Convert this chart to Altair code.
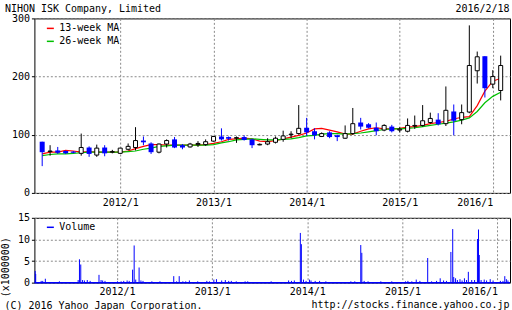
import altair as alt
import pandas as pd

FONT = "DejaVu Sans Mono"
BLUE = "#0000ff"

# Monthly candles, 2011/3 .. 2016/2
months = [f"{y}-{m:02d}-01" for y in range(2011, 2017) for m in range(1, 13)]
months = [d for d in months if "2011-03-01" <= d <= "2016-02-01"]

open_ = [88, 71, 73, 72, 71, 68, 78, 65, 78, 70,
         68, 75, 78, 90, 85, 70, 84, 92, 82, 79,
         83, 83, 89, 97, 96, 94, 96, 92, 82.5, 84,
         87, 92, 100, 102, 112, 106, 97, 104, 99, 94,
         102, 121, 118, 112, 108, 114, 108, 106, 115, 116,
         121, 126, 119, 140, 126, 139, 210, 235, 187, 176]
high = [88, 82, 79, 73, 72, 102, 80, 83, 82, 74,
        77, 85, 113, 97, 87, 85, 92, 96, 84, 86,
        89, 92, 98, 111, 97, 97, 99, 93, 85, 94,
        97, 107, 106, 151, 129, 111, 104, 106, 100, 116,
        146, 129, 120, 121, 118, 117, 113, 128, 133, 151,
        138, 137, 183, 152, 152, 288, 243, 235, 211, 236]
low = [46, 64, 67, 67, 68, 64, 62, 62, 63, 68,
       67, 73, 73, 82, 67, 68, 78, 77, 75, 78,
       79, 81, 88, 90, 90, 86, 90, 77, 82, 82,
       85, 88, 94, 100, 98, 92, 96, 94, 89, 93,
       100, 109, 111, 99, 106, 104, 104, 104, 110, 114,
       119, 116, 115, 99, 118, 137, 188, 164, 180, 159]
close = [70, 72, 69, 68, 69, 78, 67, 77, 68, 71,
         77, 80, 90, 87, 70, 84, 90, 78, 78, 84,
         85, 88, 97, 92, 93, 95, 91, 82, 83.5, 88,
         94, 98, 101, 111, 104, 99, 102, 96, 96, 102,
         119, 114, 112, 106, 116, 106, 109.5, 116, 116, 124,
         128, 118, 142, 124, 138, 219, 234, 180, 200, 219]

ma13 = [67, 70, 70, 73, 72, 70, 71, 70, 70, 70,
        70, 72, 76, 80, 83, 83, 82, 82, 82, 82,
        82, 83, 85, 88, 92, 93, 94, 93, 89, 88,
        90, 93, 96, 99, 103, 110, 111, 108, 105, 101,
        101, 106, 110, 112, 110, 110, 111, 113, 114, 116,
        119, 121, 123, 127, 130, 131, 150, 175, 192, 197]
ma26 = [64, 66, 67, 67, 68, 69, 70, 70, 70, 70,
        70, 71, 72, 75, 77, 80, 81, 82, 82, 82,
        82, 82, 83, 86, 88, 91, 92, 93, 92, 91,
        91, 92, 93, 95, 98, 99, 101, 102, 102, 101,
        102, 103, 105, 107, 109, 110, 110, 111, 112, 114,
        116, 118, 120, 122, 125, 129, 140, 155, 166, 173]

vol_dates = ["2011-02-21", "2011-02-23", "2011-03-16", "2011-03-22", "2011-04-01",
             "2011-05-25", "2011-08-05", "2011-08-10", "2011-08-15", "2011-08-22",
             "2011-08-29", "2011-09-09", "2011-09-20", "2011-10-24", "2011-11-01",
             "2011-11-07", "2011-11-16", "2012-01-03", "2012-01-17", "2012-01-27",
             "2012-02-09", "2012-02-17", "2012-03-01", "2012-03-07", "2012-03-13",
             "2012-03-26", "2012-04-02", "2012-04-10", "2012-05-14", "2012-06-14",
             "2012-08-06", "2012-08-17", "2012-08-27", "2012-09-10", "2012-09-21",
             "2012-10-05", "2012-11-06", "2012-12-11", "2012-12-21", "2013-01-07",
             "2013-01-17", "2013-02-06", "2013-02-20", "2013-03-05", "2013-03-15",
             "2013-04-03", "2013-05-07", "2013-05-17", "2013-08-15", "2013-10-21",
             "2013-11-01", "2013-11-12", "2013-12-05", "2013-12-09", "2013-12-17",
             "2013-12-27", "2014-01-09", "2014-01-15", "2014-01-31", "2014-02-17",
             "2014-03-13", "2014-06-17", "2014-07-02", "2014-07-25", "2014-07-29",
             "2014-08-07", "2014-08-22", "2014-10-10", "2014-11-21", "2015-01-13",
             "2015-01-22", "2015-02-06", "2015-02-23", "2015-03-09", "2015-04-08",
             "2015-04-23", "2015-05-12", "2015-05-26", "2015-06-08", "2015-06-19",
             "2015-07-06", "2015-07-13", "2015-07-17", "2015-07-24", "2015-07-31",
             "2015-08-10", "2015-08-18", "2015-08-27", "2015-09-04", "2015-09-11",
             "2015-09-24", "2015-10-05", "2015-10-16", "2015-10-20", "2015-10-23",
             "2015-10-30", "2015-11-11", "2015-11-20", "2015-12-04", "2015-12-15",
             "2016-01-12", "2016-01-22", "2016-01-29", "2016-02-04", "2016-02-10"]
vol_values = [2.7, 2.0, 0.4, 0.4, 0.9,
              0.3, 0.6, 5.4, 4.2, 0.6,
              0.5, 0.6, 0.4, 1.8, 0.6,
              0.5, 0.4, 0.3, 0.3, 0.4,
              0.5, 0.4, 3.0, 8.6, 0.7,
              3.5, 0.5, 0.4, 0.3, 0.3,
              1.5, 0.3, 1.5, 0.3, 0.3,
              0.5, 0.3, 0.4, 0.3, 0.7,
              0.8, 0.5, 0.6, 0.4, 0.4,
              0.3, 0.3, 0.3, 0.3, 0.5,
              0.4, 0.5, 11.5, 8.9, 0.7,
              0.4, 0.7, 0.5, 0.4, 0.4,
              0.3, 0.3, 0.3, 8.7, 6.9,
              0.4, 0.3, 0.3, 0.3, 0.3,
              0.4, 0.3, 0.7, 0.4, 5.7,
              0.3, 0.4, 1.0, 0.5, 0.4,
              7.1, 12.4, 1.3, 1.0, 0.6,
              0.8, 0.5, 1.0, 0.6, 2.5,
              0.6, 0.6, 10.1, 12.3, 6.4,
              0.6, 0.7, 0.5, 0.8, 0.5,
              0.4, 0.4, 1.5, 0.8, 0.5]

candles = pd.DataFrame({"date": months, "open": open_, "high": high,
                        "low": low, "close": close})
candles["dir"] = ["up" if c >= o else "down" for o, c in zip(open_, close)]

ma_df = pd.DataFrame({
    "date": months * 2,
    "value": ma13 + ma26,
    "series": ["13-week MA"] * len(months) + ["26-week MA"] * len(months),
})
vol_df = pd.DataFrame({"date": vol_dates, "volume": vol_values, "series": "Volume"})
zero_df = pd.DataFrame({"volume": [0]})

x_dom = [alt.DateTime(year=2011, month=2, date=18, utc=True),
         alt.DateTime(year=2016, month=2, date=18, utc=True)]
year_ticks = [alt.DateTime(year=y, month=1, date=1, utc=True) for y in range(2012, 2017)]


def x_enc(title, title_y, label_pad):
    return alt.X("date:T", scale=alt.Scale(type="utc", domain=x_dom),
                 axis=alt.Axis(values=year_ticks,
                               labelExpr="utcFormat(datum.value, '%Y/%-m')",
                               grid=True, ticks=False, labelFlush=20,
                               labelPadding=label_pad, title=title,
                               titleX=476, titleY=title_y, titleAngle=0,
                               titleAlign="right", titleBaseline="middle"))


X_MAIN = x_enc("2016/2/18", -185, 5)
Y_AXIS = alt.Axis(values=[0, 100, 200, 300], grid=True, tickSize=3, labelPadding=2,
                  title="NIHON ISK Company, Limited", titleX=-30, titleY=-10,
                  titleAngle=0, titleAlign="left", titleBaseline="middle")
Y_SCALE = alt.Scale(domain=[0, 300])


def yq(field):
    return alt.Y(f"{field}:Q", scale=Y_SCALE, axis=Y_AXIS)


lines = alt.Chart(ma_df).mark_line(interpolate="linear", strokeWidth=1.2).encode(
    x=X_MAIN, y=yq("value"),
    color=alt.Color("series:N",
                    scale=alt.Scale(domain=["13-week MA", "26-week MA"],
                                    range=["#ff0000", "#00c000"]),
                    legend=alt.Legend(orient="none", legendX=11, legendY=5, title=None,
                                      symbolType="stroke", symbolSize=49,
                                      symbolStrokeWidth=1.5, labelOffset=4,
                                      rowPadding=3, padding=0)))

base = alt.Chart(candles)
wick_up = base.transform_filter("datum.dir == 'up'").mark_rule(color="black", strokeWidth=1).encode(
    x=X_MAIN, y=yq("low"), y2="high:Q")
wick_dn = base.transform_filter("datum.dir == 'down'").mark_rule(color=BLUE, strokeWidth=1).encode(
    x=X_MAIN, y=yq("low"), y2="high:Q")
body_up = base.transform_filter("datum.dir == 'up'").mark_bar(
    size=4, fill="white", stroke="black", strokeWidth=1).encode(
    x=X_MAIN, y=yq("open"), y2="close:Q")
body_dn = base.transform_filter("datum.dir == 'down'").mark_bar(
    size=5, color=BLUE).encode(x=X_MAIN, y=yq("open"), y2="close:Q")

main = alt.layer(lines, wick_up, wick_dn, body_up, body_dn).properties(width=477, height=175)

X_VOL = x_enc("http://stocks.finance.yahoo.co.jp", 22, 3.5)
VY_AXIS = alt.Axis(values=[0, 5, 10, 15], grid=True, tickSize=3, labelPadding=2,
                   title="(x1000000)", titleX=-28.5, titleY=49, titleAngle=270,
                   titleAlign="center", titleBaseline="middle")
VY_SCALE = alt.Scale(domain=[0, 15])

zero_line = alt.Chart(zero_df).mark_rule(color=BLUE, strokeWidth=1.5).encode(
    y=alt.Y("volume:Q", scale=VY_SCALE, axis=VY_AXIS))
vol_bars = alt.Chart(vol_df).mark_rule(strokeWidth=1).encode(
    x=X_VOL,
    y=alt.Y("volume:Q", scale=VY_SCALE, axis=VY_AXIS),
    y2=alt.datum(0),
    color=alt.Color("series:N", scale=alt.Scale(domain=["Volume"], range=[BLUE]),
                    legend=alt.Legend(orient="none", legendX=11, legendY=4.5, title=None,
                                      symbolType="stroke", symbolSize=49,
                                      symbolStrokeWidth=1.5, labelOffset=4, padding=0)))

vol = alt.layer(zero_line, vol_bars).properties(
    width=477, height=65,
    title=alt.TitleParams("(C) 2016 Yahoo Japan Corporation.", orient="bottom",
                          anchor="start", frame="group", dx=-30, dy=-4, offset=0,
                          baseline="middle"))

chart = alt.vconcat(main, vol, spacing=25, bounds="flush").resolve_scale(
    color="independent").properties(
    padding={"left": 0.5, "top": 2, "right": 0, "bottom": 2},
    background="white",
).configure_view(stroke="black", strokeWidth=1).configure_axis(
    labelFont=FONT, labelFontSize=10, labelColor="black",
    titleFont=FONT, titleFontSize=10, titleFontWeight="normal", titleColor="black",
    gridColor="#8a8a8a", gridDash=[2, 2], gridWidth=1, domain=False, tickColor="black",
).configure_legend(labelFont=FONT, labelFontSize=10, labelColor="black").configure_title(
    font=FONT, fontSize=10, fontWeight="normal", color="black")

chart.save("out.html", embed_options={"renderer": "svg", "actions": False})
